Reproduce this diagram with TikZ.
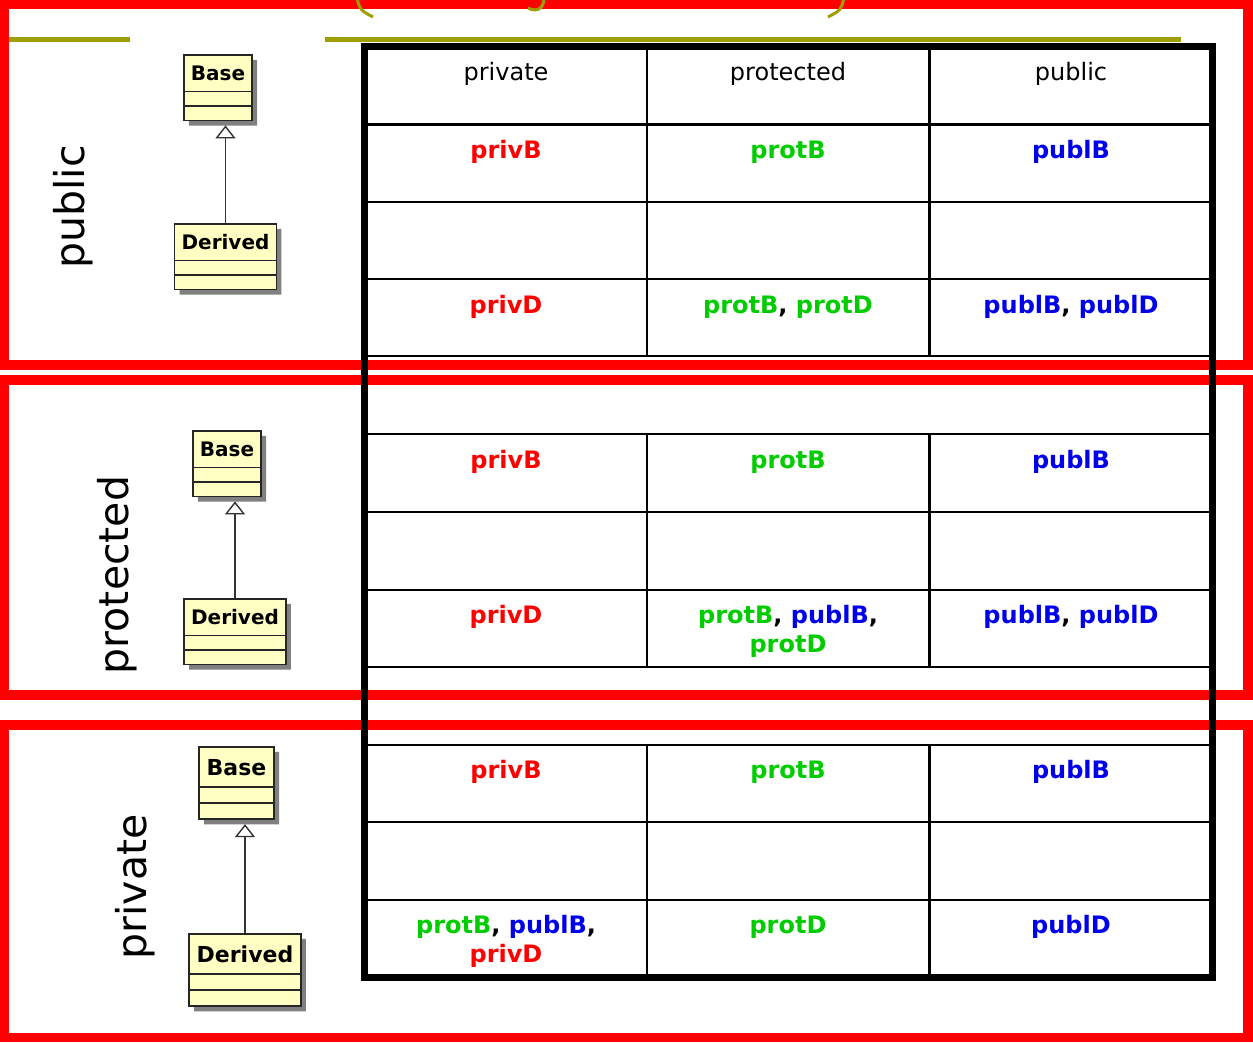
\documentclass[tikz,border=0pt]{standalone}
\usepackage{fontspec}
\setmainfont{DejaVu Sans}
\usetikzlibrary{arrows.meta,shapes.multipart,shadows}
\definecolor{privred}{RGB}{255,0,0}
\definecolor{protgreen}{RGB}{0,204,0}
\definecolor{publblue}{RGB}{0,0,235}
\definecolor{titleolive}{RGB}{158,158,0}
\definecolor{umlyellow}{RGB}{255,255,196}
\newcommand{\privc}[1]{\textcolor{privred}{#1}}
\newcommand{\protc}[1]{\textcolor{protgreen}{#1}}
\newcommand{\publc}[1]{\textcolor{publblue}{#1}}
\newcommand{\clsname}[1]{\rule[-10pt]{0pt}{35pt}#1\nodepart{second}\nodepart{third}}
\begin{document}
\begin{tikzpicture}[x=1pt,y=-1pt,
  frame/.style={draw=privred, line width=9.5pt},
  border/.style={line width=7pt},
  grid/.style={line width=2.7pt},
  head/.style={anchor=base, font=\fontsize{24}{29}\selectfont},
  cell/.style={anchor=base, align=center, font=\bfseries\fontsize{24}{29}\selectfont},
  kind/.style={rotate=90, font=\fontsize{41}{41}\selectfont},
  umlclass/.style={rectangle split, rectangle split parts=3, draw=black!85,
    line width=1.6pt, fill=umlyellow, inner xsep=7pt, inner ysep=0pt,
    rectangle split empty part height=13pt, rectangle split empty part depth=0pt,
    font=\bfseries\fontsize{20}{20}\selectfont, anchor=north,
    drop shadow={shadow xshift=5pt, shadow yshift=-5pt, fill=black!50, opacity=1}},
  inherit/.style={draw=black!80, line width=1.4pt, shorten >=4pt,
    -{Triangle[open, length=13pt, width=20pt]}}
  ]
  \useasboundingbox (0,0) rectangle (1253,1042);

  % frames round the three cases
  \draw[frame] (4.5,4.5) rectangle (1248,365);
  \draw[frame] (4.5,380) rectangle (1248,695);
  \draw[frame] (4.5,725) rectangle (1248,1037.5);

  % title remains
  \draw[titleolive, line width=5pt] (9,39.5) -- (130,39.5);
  \draw[titleolive, line width=5pt] (325,39.5) -- (1181,39.5);
  \draw[titleolive, line width=3pt] (357,-2) .. controls (360,10) .. (373,17);
  \draw[titleolive, line width=3pt] (844,-2) .. controls (841,10) .. (828,17);
  \draw[titleolive, line width=3pt] (544,-2) .. controls (544,10) and (535,12) .. (528,8);

  % table
  \foreach \y in {124.5,202,279,356,434,512,590,667,745,822,900}
    \draw[grid] (365,\y) -- (1212,\y);
  \foreach \x in {647,929.5}
    \foreach \a/\b in {46.5/356,434/667,745/977}
      \draw[grid] (\x,\a) -- (\x,\b);
  \draw[border] (364.5,46.5) rectangle (1212,977);

  \node[head] (hpriv) at (506,80.5) {private};
  \node[head] (hprot) at (788,80.5) {protected};
  \node[head] (hpubl) at (1071,80.5) {public};

  % public inheritance
  \node[cell] (pubB1) at (506,158) {\privc{privB}};
  \node[cell] (pubB2) at (788,158) {\protc{protB}};
  \node[cell] (pubB3) at (1071,158) {\publc{publB}};
  \node[cell] (pubD1) at (506,313) {\privc{privD}};
  \node[cell] (pubD2) at (788,313) {\protc{protB}, \protc{protD}};
  \node[cell] (pubD3) at (1071,313) {\publc{publB}, \publc{publD}};

  % protected inheritance
  \node[cell] (proB1) at (506,468) {\privc{privB}};
  \node[cell] (proB2) at (788,468) {\protc{protB}};
  \node[cell] (proB3) at (1071,468) {\publc{publB}};
  \node[cell] (proD1) at (506,623.5) {\privc{privD}};
  \node[cell] (proD2) at (788,652.5) {\protc{protB}, \publc{publB},\\\protc{protD}};
  \node[cell] (proD3) at (1071,623.5) {\publc{publB}, \publc{publD}};

  % private inheritance
  \node[cell] (priB1) at (506,778.5) {\privc{privB}};
  \node[cell] (priB2) at (788,778.5) {\protc{protB}};
  \node[cell] (priB3) at (1071,778.5) {\publc{publB}};
  \node[cell] (priD1) at (506,962.5) {\protc{protB}, \publc{publB},\\\privc{privD}};
  \node[cell] (priD2) at (788,933.5) {\protc{protD}};
  \node[cell] (priD3) at (1071,933.5) {\publc{publD}};

  % kinds of inheritance
  \node[kind] (kpubl) at (73,207) {public};
  \node[kind] (kprot) at (117,575) {protected};
  \node[kind] (kpriv) at (135,887) {private};

  % class diagrams
  \node[umlclass] (base1) at (218,54) {\clsname{Base}};
  \node[umlclass] (der1) at (225.5,223) {\clsname{Derived}};
  \draw[inherit] (der1.north) -- (der1.north |- base1.south);

  \node[umlclass] (base2) at (227,430) {\clsname{Base}};
  \node[umlclass] (der2) at (235,598) {\clsname{Derived}};
  \draw[inherit] (der2.north) -- (der2.north |- base2.south);

  \node[umlclass, scale=1.1] (base3) at (236.5,746) {\clsname{Base}};
  \node[umlclass, scale=1.1] (der3) at (245,933) {\clsname{Derived}};
  \draw[inherit] (der3.north) -- (der3.north |- base3.south);
\end{tikzpicture}
\end{document}
